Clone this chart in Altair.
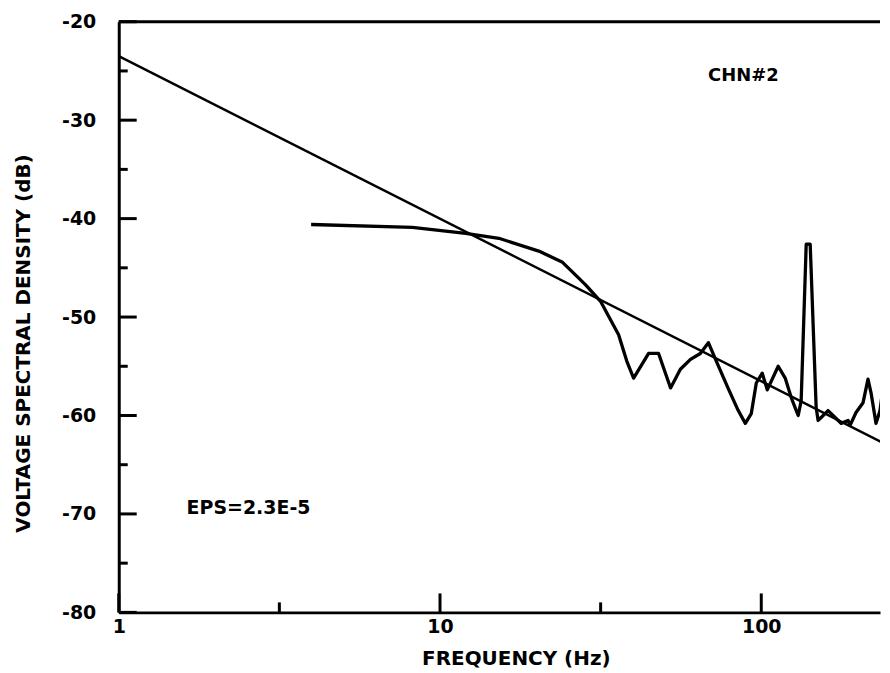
import altair as alt
import pandas as pd

# ---- data ----
freq = [3.97, 8.20, 12.02, 15.25, 20.3, 23.98, 28.35, 31.6, 35.97, 38.16,
        40.05, 44.6, 47.9, 52.2, 56.0, 60.2, 64.6, 68.45, 72.5, 79.0,
        84.8, 89.2, 93.1, 96.5, 100.7, 104.4, 112.9, 118.7, 124.0, 128.5,
        130.3, 133.1, 138.0, 142.0, 148.2, 150.3, 153.6, 161.4, 169.8, 177.2,
        186.3, 189.0, 197.2, 207.4, 214.9, 219.6, 227.6, 234.2, 239.3, 244.5, 248.0]
spec_db = [-40.6, -40.9, -41.5, -42.0, -43.3, -44.4, -46.7, -48.4, -51.8, -54.5,
           -56.2, -53.7, -53.7, -57.2, -55.3, -54.3, -53.7, -52.6, -54.5, -57.3,
           -59.5, -60.8, -59.8, -56.7, -55.7, -57.4, -55.0, -56.2, -58.2, -59.5,
           -60.0, -58.5, -42.6, -42.6, -59.2, -60.5, -60.2, -59.5, -60.2, -60.8,
           -60.5, -61.0, -59.7, -58.7, -56.3, -57.7, -60.8, -59.5, -57.2, -59.8, -61.2]

fit_freq = [1, 250]
fit_db = [-23.5, -63.1]

x_major = [1, 10, 100]
x_minor = [3.162, 31.62]
y_major = [-80, -70, -60, -50, -40, -30, -20]
y_minor = [-75, -65, -55, -45, -35, -25]

notes_text = ["CHN#2", "EPS=2.3E-5"]
notes_f = [88, 1.626]
notes_db = [-25.5, -69.4]
notes_align = ["center", "left"]

# ---- chart ----
W, H = 763, 592
FONT = "DejaVu Sans"
xs = alt.Scale(type="log", domain=[1, 234.2], nice=False)
ys = alt.Scale(domain=[-80, -20], nice=False, zero=False)

xaxis = alt.Axis(values=x_major, labelExpr="'' + datum.value", title="FREQUENCY (Hz)",
                 grid=False, ticks=False,
                 domainColor="black", domainWidth=3, labelFont=FONT, labelFontSize=19,
                 labelFontWeight="bold", labelColor="black", labelPadding=5,
                 labelFlush=False, labelOverlap=False,
                 titleFont=FONT, titleFontSize=20, titleFontWeight="bold", titleColor="black",
                 titleX=398, titleY=46, titleAlign="center", titleBaseline="middle")
yaxis = alt.Axis(values=y_major, labelExpr="'' + datum.value",
                 title="VOLTAGE SPECTRAL DENSITY (dB)", grid=False,
                 ticks=False, domainColor="black", domainWidth=3, labelFont=FONT, labelFontSize=19,
                 labelFontWeight="bold", labelColor="black", labelPadding=23,
                 labelFlush=False, labelOverlap=False,
                 titleFont=FONT, titleFontSize=20, titleFontWeight="bold", titleColor="black",
                 titleX=-95, titleY=322, titleAlign="center", titleBaseline="middle", titleAngle=270)


def X():
    return alt.X("f:Q", scale=xs, axis=xaxis)


def Y():
    return alt.Y("db:Q", scale=ys, axis=yaxis)


spec_df = pd.DataFrame({"f": freq, "db": spec_db})
curve = alt.Chart(spec_df).mark_line(color="black", strokeWidth=3.3, clip=True,
                                     strokeJoin="round").encode(x=X(), y=Y(), order="f:Q")

fit_df = pd.DataFrame({"f": fit_freq, "db": fit_db})
fit = alt.Chart(fit_df).mark_line(color="black", strokeWidth=2.4, clip=True).encode(x=X(), y=Y())

top = alt.Chart(pd.DataFrame({"db": [-20]})).mark_rule(color="black", strokeWidth=3).encode(y=Y())


def xticks(vals, length):
    return alt.Chart(pd.DataFrame({"f": vals})).mark_rule(color="black", strokeWidth=3).encode(
        x=X(), y=alt.value(H), y2=alt.value(H - length))


def yticks(vals, length):
    return alt.Chart(pd.DataFrame({"db": vals})).mark_rule(color="black", strokeWidth=3).encode(
        y=Y(), x=alt.value(0), x2=alt.value(length))


notes_layers = []
for t, f, d, a in zip(notes_text, notes_f, notes_db, notes_align):
    notes_layers.append(
        alt.Chart(pd.DataFrame({"f": [f], "db": [d], "t": [t]})).mark_text(
            font=FONT, fontSize=18 if t.startswith("CHN") else 19, fontWeight="bold",
            color="black", align=a, baseline="middle").encode(x=X(), y=Y(), text="t:N")
    )

chart = alt.layer(
    curve, fit, top,
    xticks(x_major, 19), xticks(x_minor, 10),
    yticks(y_major, 18), yticks(y_minor, 9),
    *notes_layers,
).properties(
    width=W, height=H,
    padding={"left": 6, "top": 4, "right": 0, "bottom": 0},
    background="white",
).configure_view(stroke=None)

chart.save("out.html", embed_options={"renderer": "svg", "actions": False})
